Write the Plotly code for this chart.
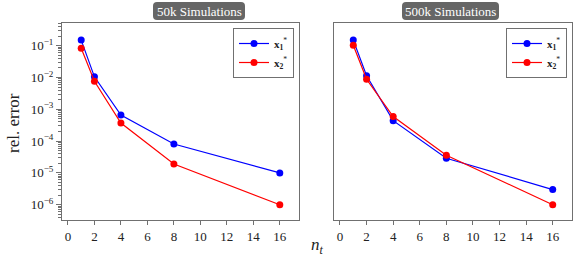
import plotly.graph_objects as go
from plotly.subplots import make_subplots

# ---- data ----
n_t = [1, 2, 4, 8, 16]
err50k_x1 = [0.15, 0.0105, 6.6e-4, 8.1e-5, 1.0e-5]
err50k_x2 = [0.083, 7.6e-3, 3.7e-4, 1.9e-5, 1.0e-6]
err500k_x1 = [0.15, 0.0113, 4.4e-4, 2.9e-5, 3.0e-6]
err500k_x2 = [0.103, 8.8e-3, 5.9e-4, 3.6e-5, 1.0e-6]
panel_titles = ["50k Simulations", "500k Simulations"]
series_names = ["<b>x</b><sub><b>1</b></sub><sup>*</sup>", "<b>x</b><sub><b>2</b></sub><sup>*</sup>"]
xtick_vals = [0, 2, 4, 6, 8, 10, 12, 14, 16]
ytick_vals = [1e-6, 1e-5, 1e-4, 1e-3, 1e-2, 1e-1]
ytick_text = ["10<sup>−6</sup>", "10<sup>−5</sup>", "10<sup>−4</sup>",
              "10<sup>−3</sup>", "10<sup>−2</sup>", "10<sup>−1</sup>"]

FONT = "Liberation Serif"
FRAME = "#707070"
W, H = 580, 257
L, R, T, B = 62, 8, 23, 37
PW, PH = W - L - R, H - T - B

def px(x):
    return (x - L) / PW

def py(y):
    return (H - B - y) / PH

fig = make_subplots(rows=1, cols=2, horizontal_spacing=0.0)
fig.update_layout(
    xaxis=dict(domain=[0, px(299)]),
    xaxis2=dict(domain=[px(334), 1]),
)

colors = ["#0000ff", "#ff0000"]
for col, (s1, s2), leg in [(1, (err50k_x1, err50k_x2), "legend"),
                           (2, (err500k_x1, err500k_x2), "legend2")]:
    for ys, name, c in [(s1, series_names[0], colors[0]), (s2, series_names[1], colors[1])]:
        fig.add_trace(go.Scatter(
            x=n_t, y=ys, mode="lines+markers", name=name,
            line=dict(color=c, width=1.2),
            marker=dict(color=c, size=7),
            legend=leg, showlegend=True,
        ), row=1, col=col)

xcommon = dict(range=[-0.45, 17.45], tickmode="array", tickvals=xtick_vals,
               ticks="outside", ticklen=4, tickcolor=FRAME, showline=True,
               linecolor=FRAME, linewidth=1, mirror=True, showgrid=False,
               zeroline=False, tickfont=dict(family=FONT, size=13, color="#222"))
fig.update_xaxes(**xcommon)

yrange = [-6.48, -0.286]
fig.update_yaxes(type="log", range=yrange, showline=True, linecolor=FRAME,
                 linewidth=1, mirror=True, showgrid=False, zeroline=False)
fig.update_yaxes(tickmode="array", tickvals=ytick_vals, ticktext=ytick_text,
                 ticks="outside", ticklen=5, tickcolor=FRAME,
                 minor=dict(ticks="outside", ticklen=3, tickcolor=FRAME, dtick="D1", showgrid=False),
                 tickfont=dict(family=FONT, size=13, color="#222"), row=1, col=1)
fig.update_yaxes(showticklabels=False, ticks="", row=1, col=2)

legend_style = dict(bgcolor="white", bordercolor=FRAME, borderwidth=1,
                    font=dict(family=FONT, size=11, color="#222"),
                    yanchor="top", xanchor="right", itemwidth=30,
                    tracegroupgap=0)
fig.update_layout(
    legend=dict(x=px(294), y=py(28), **legend_style),
    legend2=dict(x=px(567), y=py(28), **legend_style),
)

def rounded_rect(x0, y0, x1, y1, r):
    X = lambda v: px(v)
    Y = lambda v: py(v)
    return (f"M {X(x0+r)} {Y(y0)} L {X(x1-r)} {Y(y0)} Q {X(x1)} {Y(y0)} {X(x1)} {Y(y0+r)} "
            f"L {X(x1)} {Y(y1-r)} Q {X(x1)} {Y(y1)} {X(x1-r)} {Y(y1)} "
            f"L {X(x0+r)} {Y(y1)} Q {X(x0)} {Y(y1)} {X(x0)} {Y(y1-r)} "
            f"L {X(x0)} {Y(y0+r)} Q {X(x0)} {Y(y0)} {X(x0+r)} {Y(y0)} Z")

boxes = [(153, 2, 245, 20), (402, 2, 499, 20)]
for (x0, y0, x1, y1), title in zip(boxes, panel_titles):
    fig.add_shape(type="path", xref="paper", yref="paper",
                  path=rounded_rect(x0, y0, x1, y1, 4),
                  fillcolor="#666666", line=dict(width=0))
    fig.add_annotation(x=px((x0 + x1) / 2), y=py((y0 + y1) / 2), xref="paper", yref="paper",
                       text=title, showarrow=False, xanchor="center", yanchor="middle",
                       font=dict(family=FONT, size=13, color="white"))

fig.add_annotation(x=px(13), y=py(123), xref="paper", yref="paper", text="rel. error",
                   textangle=-90, showarrow=False, xanchor="center", yanchor="middle",
                   font=dict(family=FONT, size=17, color="#222"))
fig.add_annotation(x=px(317), y=py(246), xref="paper", yref="paper", text="<i>n</i><sub><i>t</i></sub>",
                   showarrow=False, xanchor="center", yanchor="middle",
                   font=dict(family=FONT, size=17, color="#222"))

fig.update_layout(width=W, height=H, margin=dict(l=L, r=R, t=T, b=B),
                  plot_bgcolor="white", paper_bgcolor="white")
fig.write_html("out.html", post_script="document.body.style.margin='0px';",
               config={"displayModeBar": False})
